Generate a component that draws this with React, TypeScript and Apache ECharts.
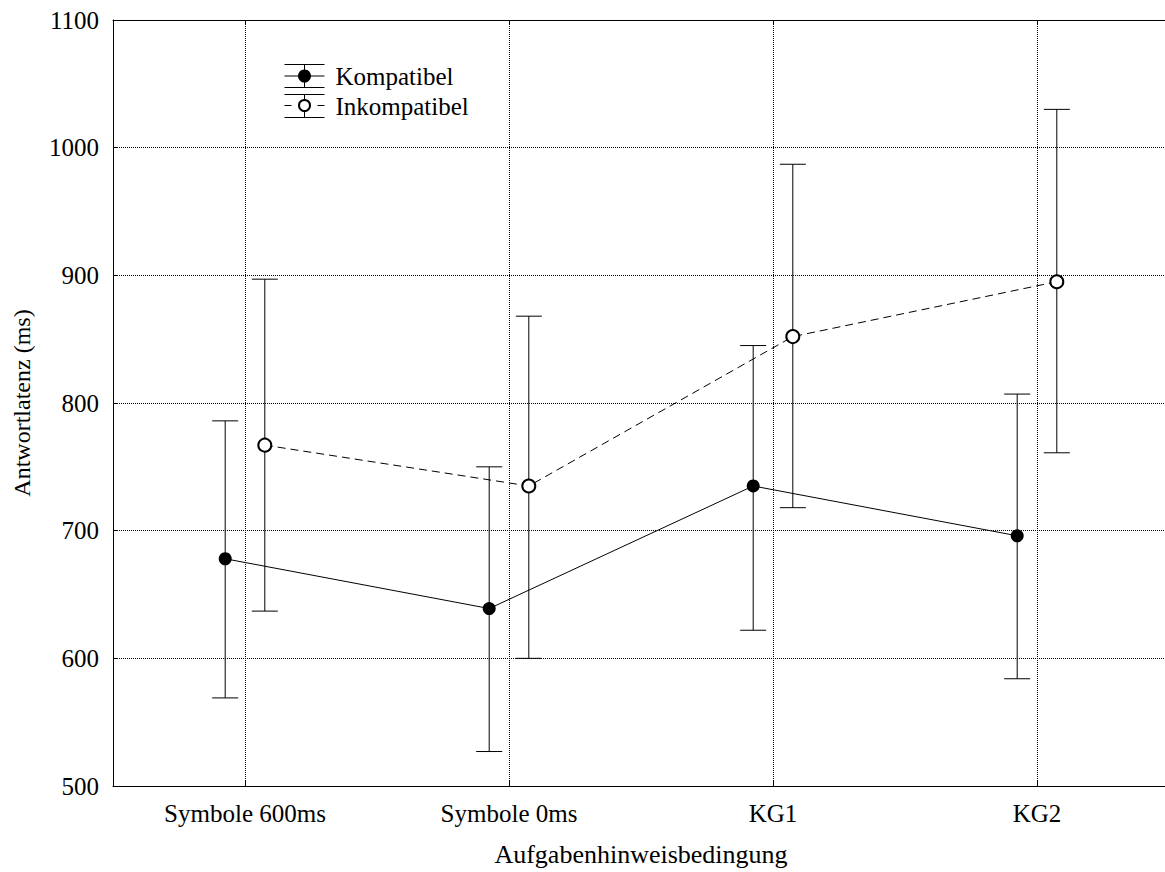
import React, { useEffect, useRef } from "react";
import * as echarts from "echarts";

const categories = ["Symbole 600ms", "Symbole 0ms", "KG1", "KG2"];
const kompMean = [678, 639, 735, 696];
const kompLow = [569, 527, 622, 584];
const kompHigh = [786, 750, 845, 807];
const inkMean = [767, 735, 852, 895];
const inkLow = [637, 600, 718, 761];
const inkHigh = [897, 868, 987, 1030];
const yTicks = { min: 500, max: 1100, interval: 100 };
const seriesNames = ["Kompatibel", "Inkompatibel"];

const FONT = "'Liberation Serif', 'Times New Roman', serif";
const OFF = 0.075;

export default function App() {
  const ref = useRef<HTMLDivElement>(null);
  useEffect(() => {
    if (!ref.current) return;
    const chart = echarts.init(ref.current, undefined, { renderer: "svg" });

    const catIdx = categories.map((_, i) => i);
    const kompPts = kompMean.map((v, i) => [i - OFF, v]);
    const inkPts = inkMean.map((v, i) => [i + OFF, v]);
    const kompErr = kompMean.map((_, i) => [i - OFF, kompLow[i], kompHigh[i]]);
    const inkErr = inkMean.map((_, i) => [i + OFF, inkLow[i], inkHigh[i]]);

    const renderErr = (params: any, api: any) => {
      const x = api.value(0);
      const lo = api.coord([x, api.value(1)]);
      const hi = api.coord([x, api.value(2)]);
      const half = 13;
      const style = { stroke: "#000", lineWidth: 1 };
      return {
        type: "group",
        children: [
          { type: "line", shape: { x1: lo[0], y1: lo[1], x2: hi[0], y2: hi[1] }, style },
          { type: "line", shape: { x1: hi[0] - half, y1: hi[1], x2: hi[0] + half, y2: hi[1] }, style },
          { type: "line", shape: { x1: lo[0] - half, y1: lo[1], x2: lo[0] + half, y2: lo[1] }, style },
        ],
      };
    };

    const xBase = {
      type: "value",
      min: -0.5,
      max: 3.5,
    };

    chart.setOption({
      animation: false,
      backgroundColor: "#fff",
      grid: { left: 113, top: 20, right: 0, bottom: 84, show: false },
      xAxis: [
        {
          ...xBase,
          position: "bottom",
          name: "Aufgabenhinweisbedingung",
          nameLocation: "middle",
          nameGap: 55,
          nameTextStyle: { fontFamily: FONT, fontSize: 26, color: "#000" },
          axisLine: { show: true, onZero: false, lineStyle: { color: "#000", width: 1 } },
          axisTick: { show: true, inside: true, length: 5, customValues: catIdx, lineStyle: { color: "#000" } },
          axisLabel: {
            margin: 15,
            fontFamily: FONT,
            fontSize: 25,
            color: "#000",
            customValues: catIdx,
            formatter: (v: number) => categories[Math.round(v)] ?? "",
          },
          splitLine: { show: true, lineStyle: { color: "#000", width: 1, type: [1, 1] } },
        },
        {
          ...xBase,
          position: "top",
          axisLine: { show: true, onZero: false, lineStyle: { color: "#000", width: 1 } },
          axisTick: { show: true, inside: true, length: 5, customValues: catIdx, lineStyle: { color: "#000" } },
          axisLabel: { show: false },
          splitLine: { show: false },
        },
      ],
      yAxis: {
        type: "value",
        min: yTicks.min,
        max: yTicks.max,
        interval: yTicks.interval,
        name: "Antwortlatenz (ms)",
        nameLocation: "middle",
        nameGap: 79,
        nameTextStyle: { fontFamily: FONT, fontSize: 24, color: "#000" },
        axisLine: { show: true, onZero: false, lineStyle: { color: "#000", width: 1 } },
        axisTick: { show: true, inside: true, length: 5, lineStyle: { color: "#000" } },
        axisLabel: {
          margin: 14,
          fontFamily: FONT,
          fontSize: 25,
          color: "#000",
          formatter: (v: number) => String(v),
        },
        splitLine: { show: true, lineStyle: { color: "#000", width: 1, type: [1, 1] } },
      },
      series: [
        {
          name: seriesNames[0] + " Fehler",
          type: "custom",
          renderItem: renderErr,
          data: kompErr,
          encode: { x: 0, y: [1, 2] },
          z: 1,
          silent: true,
        },
        {
          name: seriesNames[1] + " Fehler",
          type: "custom",
          renderItem: renderErr,
          data: inkErr,
          encode: { x: 0, y: [1, 2] },
          z: 1,
          silent: true,
        },
        {
          name: seriesNames[0],
          type: "line",
          data: kompPts,
          symbol: "circle",
          symbolSize: 13,
          itemStyle: { color: "#000" },
          lineStyle: { color: "#000", width: 1 },
          z: 3,
        },
        {
          name: seriesNames[1],
          type: "line",
          data: inkPts,
          symbol: "circle",
          symbolSize: 13,
          itemStyle: { color: "#fff", borderColor: "#000", borderWidth: 2 },
          lineStyle: { color: "#000", width: 1, type: [8, 5] },
          z: 3,
        },
      ],
      graphic: [
        {
          type: "group",
          left: 282,
          top: 62,
          children: [
            { type: "line", shape: { x1: 0, y1: 0.5, x2: 40, y2: 0.5 }, style: { stroke: "#000", lineWidth: 1 } },
            { type: "line", shape: { x1: 0, y1: 12, x2: 40, y2: 12 }, style: { stroke: "#000", lineWidth: 1 } },
            { type: "line", shape: { x1: 0, y1: 23.5, x2: 40, y2: 23.5 }, style: { stroke: "#000", lineWidth: 1 } },
            { type: "line", shape: { x1: 20, y1: 0.5, x2: 20, y2: 23.5 }, style: { stroke: "#000", lineWidth: 1 } },
            { type: "circle", shape: { cx: 20, cy: 12, r: 6.5 }, style: { fill: "#000" } },
            { type: "line", shape: { x1: 0, y1: 30.5, x2: 40, y2: 30.5 }, style: { stroke: "#000", lineWidth: 1 } },
            { type: "line", shape: { x1: 0, y1: 41.5, x2: 7, y2: 41.5 }, style: { stroke: "#000", lineWidth: 1 } },
            { type: "line", shape: { x1: 33, y1: 41.5, x2: 40, y2: 41.5 }, style: { stroke: "#000", lineWidth: 1 } },
            { type: "line", shape: { x1: 0, y1: 53.5, x2: 40, y2: 53.5 }, style: { stroke: "#000", lineWidth: 1 } },
            { type: "line", shape: { x1: 20, y1: 30.5, x2: 20, y2: 53.5 }, style: { stroke: "#000", lineWidth: 1 } },
            { type: "circle", shape: { cx: 20, cy: 41.5, r: 5.5 }, style: { fill: "#fff", stroke: "#000", lineWidth: 2 } },
            {
              type: "text",
              x: 51,
              y: 12,
              style: { text: seriesNames[0], font: `25px ${FONT}`, fill: "#000", verticalAlign: "middle", align: "left" },
            },
            {
              type: "text",
              x: 51,
              y: 42,
              style: { text: seriesNames[1], font: `25px ${FONT}`, fill: "#000", verticalAlign: "middle", align: "left" },
            },
          ],
        },
      ],
    });
    return () => chart.dispose();
  }, []);
  return (
    <div style={{ position: "absolute", left: 0, top: 0, width: 1165, height: 872, overflow: "hidden" }}>
      <div ref={ref} style={{ width: 1169, height: 872 }} />
    </div>
  );
}
